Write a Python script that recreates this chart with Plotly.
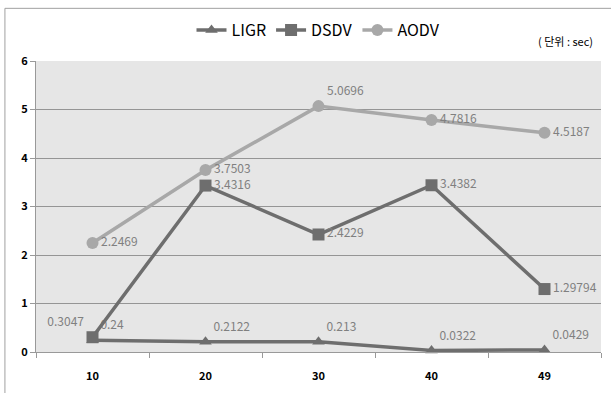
import plotly.graph_objects as go

categories = ["10", "20", "30", "40", "49"]
ligr = [0.24, 0.2122, 0.213, 0.0322, 0.0429]
dsdv = [0.3047, 3.4316, 2.4229, 3.4382, 1.29794]
aodv = [2.2469, 3.7503, 5.0696, 4.7816, 4.5187]
ligr_text = ["0.24", "0.2122", "0.213", "0.0322", "0.0429"]
dsdv_text = ["0.3047", "3.4316", "2.4229", "3.4382", "1.29794"]
aodv_text = ["2.2469", "3.7503", "5.0696", "4.7816", "4.5187"]

FONT = "Noto Sans CJK KR, Noto Sans, sans-serif"
lbl = dict(family=FONT, size=12, color="#808080")

fig = go.Figure()
fig.add_trace(go.Scatter(
    x=categories, y=ligr, name="LIGR", mode="lines+markers+text",
    line=dict(color="#6e6e6e", width=3.5),
    marker=dict(symbol="triangle-up", size=11, color="#6e6e6e"),
    text=ligr_text, textposition="top right", textfont=lbl, cliponaxis=False))
fig.add_trace(go.Scatter(
    x=categories, y=dsdv, name="DSDV", mode="lines+markers+text",
    line=dict(color="#6e6e6e", width=3.5),
    marker=dict(symbol="square", size=12, color="#6e6e6e"),
    text=dsdv_text,
    textposition=["top left", "middle right", "middle right", "middle right", "middle right"],
    textfont=lbl, cliponaxis=False))
fig.add_trace(go.Scatter(
    x=categories, y=aodv, name="AODV", mode="lines+markers+text",
    line=dict(color="#a8a8a8", width=3.5),
    marker=dict(symbol="circle", size=12, color="#a8a8a8"),
    text=aodv_text,
    textposition=["middle right", "middle right", "top right", "middle right", "middle right"],
    textfont=lbl, cliponaxis=False))

fig.update_layout(
    width=611, height=393,
    margin=dict(l=36, r=10, t=61, b=41, autoexpand=False),
    paper_bgcolor="white", plot_bgcolor="#e6e6e6",
    font=dict(family=FONT, color="black"),
    showlegend=True,
    legend=dict(orientation="h", x=0.5, xanchor="center", y=1.106, yanchor="middle",
                font=dict(family=FONT, size=16, color="black"), itemwidth=30,
                tracegroupgap=0, bgcolor="rgba(0,0,0,0)"),
    xaxis=dict(type="category", range=[-0.5, 4.5], showgrid=False, showline=True,
               linecolor="#999999", ticks="outside", ticklen=5, tickcolor="#999999",
               tickson="boundaries", ticklabelstandoff=14,
               tickfont=dict(family=FONT, size=11, color="black", weight="bold"),
               fixedrange=True),
    yaxis=dict(range=[0, 6], dtick=1, showgrid=True, gridcolor="#959595", gridwidth=1,
               showline=True, linecolor="#999999", ticks="outside", ticklen=5,
               tickcolor="#999999", zeroline=False,
               tickfont=dict(family=FONT, size=11, color="black", weight="bold")),
    annotations=[dict(text="( 단위 : sec)", xref="paper", yref="paper", x=0.989, y=1.035,
                      xanchor="right", yanchor="bottom", showarrow=False,
                      font=dict(family=FONT, size=11, color="black"))],
    shapes=[
        dict(type="line", xref="paper", yref="paper", x0=-0.055, x1=1.05, y0=1.181, y1=1.181,
             line=dict(color="#a0a0a0", width=1)),
        dict(type="line", xref="paper", yref="paper", x0=-0.055, x1=-0.055, y0=-0.2, y1=1.181,
             line=dict(color="#a0a0a0", width=1)),
    ],
)

fig.write_html("out.html", config={"displayModeBar": False})
with open("out.html", "r", encoding="utf-8") as f:
    html = f.read()
html = html.replace("<body>", '<body style="margin:0;padding:0;">', 1)
with open("out.html", "w", encoding="utf-8") as f:
    f.write(html)
